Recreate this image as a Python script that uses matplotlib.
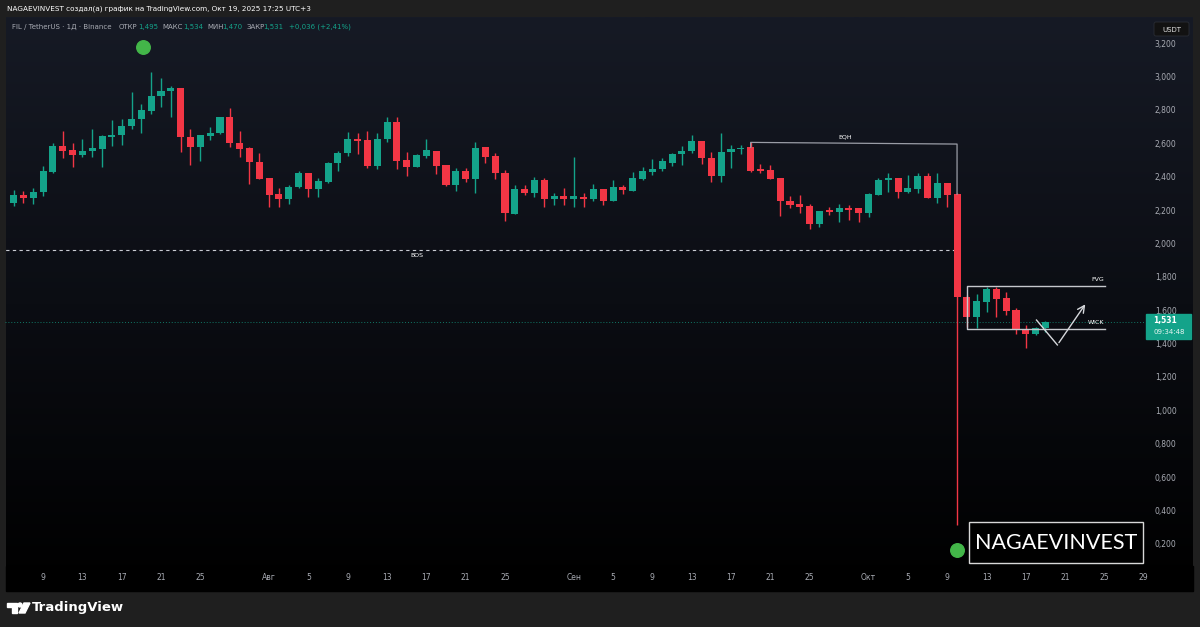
import numpy as np
import pandas as pd
import matplotlib
matplotlib.use("Agg")
import matplotlib.pyplot as plt
import matplotlib.dates as mdates
import matplotlib.transforms as mtransforms
from matplotlib.patches import Rectangle, Circle, Polygon, FancyBboxPatch
from matplotlib.colors import LinearSegmentedColormap

plt.rcParams['font.family'] = ['DejaVu Sans']

# FIL/USDT daily candles, Jul 6 .. Oct 19 2025
start_date = "2025-07-06"
open_ = [2.244, 2.292, 2.274, 2.306, 2.430, 2.583, 2.559, 2.529, 2.553, 2.567,
         2.637, 2.649, 2.701, 2.745, 2.795, 2.883, 2.915, 2.929, 2.637, 2.575,
         2.643, 2.659, 2.755, 2.603, 2.569, 2.489,
         2.390, 2.294, 2.266, 2.336, 2.424, 2.324, 2.370, 2.483, 2.539, 2.625,
         2.619, 2.464, 2.625, 2.729, 2.499, 2.460, 2.525, 2.555, 2.470, 2.350,
         2.434, 2.384, 2.579, 2.523, 2.424, 2.176, 2.324, 2.300, 2.380, 2.264, 2.284,
         2.264, 2.280, 2.264, 2.326, 2.256, 2.340, 2.316, 2.386, 2.430, 2.444,
         2.483, 2.533, 2.553, 2.615, 2.513, 2.404, 2.549, 2.565, 2.579, 2.444,
         2.440, 2.394, 2.256, 2.236, 2.224, 2.114, 2.200, 2.186, 2.210, 2.210,
         2.180, 2.290, 2.380, 2.390, 2.310, 2.324, 2.404, 2.274, 2.364, 2.294,
         1.681, 1.557, 1.651, 1.727, 1.671, 1.601, 1.487, 1.457, 1.495]
high = [2.320, 2.314, 2.330, 2.464, 2.603, 2.675, 2.603, 2.623, 2.687, 2.649,
        2.739, 2.743, 2.909, 2.835, 3.024, 2.988, 2.943, 2.933, 2.683, 2.647,
        2.699, 2.759, 2.809, 2.673, 2.575, 2.543,
        2.390, 2.334, 2.350, 2.434, 2.424, 2.390, 2.489, 2.553, 2.665, 2.659,
        2.675, 2.659, 2.755, 2.759, 2.549, 2.533, 2.625, 2.555, 2.470, 2.450,
        2.450, 2.609, 2.579, 2.543, 2.440, 2.350, 2.350, 2.400, 2.390, 2.300, 2.334,
        2.515, 2.304, 2.354, 2.326, 2.380, 2.350, 2.430, 2.460, 2.503, 2.509,
        2.543, 2.583, 2.649, 2.615, 2.549, 2.659, 2.589, 2.589, 2.609, 2.476,
        2.470, 2.394, 2.286, 2.290, 2.236, 2.194, 2.216, 2.236, 2.230, 2.210,
        2.300, 2.390, 2.424, 2.390, 2.410, 2.424, 2.420, 2.420, 2.364, 2.300,
        1.690, 1.697, 1.737, 1.737, 1.707, 1.611, 1.511, 1.501, 1.534]
low = [2.226, 2.244, 2.234, 2.284, 2.420, 2.509, 2.456, 2.515, 2.519, 2.460,
       2.583, 2.589, 2.683, 2.663, 2.775, 2.819, 2.755, 2.549, 2.470, 2.495,
       2.619, 2.655, 2.579, 2.515, 2.356, 2.384,
       2.216, 2.220, 2.234, 2.330, 2.276, 2.280, 2.360, 2.436, 2.523, 2.533,
       2.450, 2.444, 2.609, 2.444, 2.404, 2.456, 2.509, 2.416, 2.344, 2.316,
       2.370, 2.304, 2.483, 2.384, 2.134, 2.176, 2.290, 2.280, 2.220, 2.230, 2.230,
       2.216, 2.216, 2.256, 2.230, 2.256, 2.296, 2.316, 2.380, 2.410, 2.436,
       2.463, 2.469, 2.539, 2.473, 2.370, 2.370, 2.454, 2.533, 2.426, 2.420,
       2.386, 2.164, 2.210, 2.184, 2.084, 2.100, 2.170, 2.130, 2.140, 2.130,
       2.160, 2.290, 2.310, 2.270, 2.300, 2.304, 2.270, 2.244, 2.216, 0.314,
       1.501, 1.491, 1.591, 1.557, 1.571, 1.457, 1.372, 1.452, 1.470]
close = [2.290, 2.274, 2.310, 2.434, 2.583, 2.555, 2.529, 2.555, 2.569, 2.641,
         2.647, 2.705, 2.747, 2.799, 2.883, 2.913, 2.929, 2.635, 2.575, 2.647,
         2.663, 2.755, 2.599, 2.565, 2.485, 2.386,
         2.290, 2.266, 2.340, 2.424, 2.324, 2.376, 2.483, 2.539, 2.625, 2.615,
         2.464, 2.625, 2.729, 2.495, 2.456, 2.529, 2.559, 2.464, 2.350, 2.434,
         2.384, 2.573, 2.519, 2.420, 2.180, 2.324, 2.300, 2.380, 2.264, 2.284, 2.264,
         2.284, 2.264, 2.324, 2.256, 2.340, 2.320, 2.390, 2.436, 2.446, 2.493,
         2.533, 2.555, 2.615, 2.513, 2.404, 2.549, 2.565, 2.569, 2.436, 2.436,
         2.386, 2.254, 2.230, 2.220, 2.114, 2.194, 2.186, 2.210, 2.200, 2.180,
         2.294, 2.380, 2.390, 2.310, 2.330, 2.404, 2.274, 2.360, 2.290, 1.681,
         1.557, 1.657, 1.727, 1.667, 1.597, 1.487, 1.457, 1.495, 1.531]

price_ticks = [0.2, 0.4, 0.6, 0.8, 1.0, 1.2, 1.4, 1.6, 1.8, 2.0, 2.2, 2.4, 2.6, 2.8, 3.0, 3.2]
date_ticks = ["2025-07-09", "2025-07-13", "2025-07-17", "2025-07-21", "2025-07-25",
              "2025-08-01", "2025-08-05", "2025-08-09", "2025-08-13", "2025-08-17",
              "2025-08-21", "2025-08-25", "2025-09-01", "2025-09-05", "2025-09-09",
              "2025-09-13", "2025-09-17", "2025-09-21", "2025-09-25", "2025-10-01",
              "2025-10-05", "2025-10-09", "2025-10-13", "2025-10-17", "2025-10-21",
              "2025-10-25", "2025-10-29"]
date_labels = ["9", "13", "17", "21", "25", "Авг", "5", "9", "13", "17", "21", "25",
               "Сен", "5", "9", "13", "17", "21", "25", "Окт", "5", "9", "13", "17",
               "21", "25", "29"]

last_price = 1.531
bos_level = 1.960
bos_end = "2025-10-09 19:00"
eqh_dates = ["2025-09-19", "2025-10-10"]
eqh_levels = [2.605, 2.595]
fvg_top, fvg_bottom = 1.745, 1.487
fvg_dates = ["2025-10-11", "2025-10-25 02:00"]
path_dates = ["2025-10-18 02:00", "2025-10-20 05:00", "2025-10-23 05:00"]
path_prices = [1.541, 1.392, 1.649]
dot_dates = ["2025-07-19 05:00", "2025-10-10"]
dot_prices = [3.176, 0.164]

GREEN = "#14a38a"
RED = "#f23645"
LABEL = "#a9acb4"

dates = pd.date_range(start_date, periods=len(close), freq="D")
xd = mdates.date2num(dates)
o, h, l, c = map(np.array, (open_, high, low, close))
up = c >= o

W, H = 1200, 627
fig = plt.figure(figsize=(12, 6.27), dpi=100, facecolor="#1f1f1f")

# background panel with the dark gradient
bg = fig.add_axes([0, 0, 1, 1])
bg.set_xlim(0, W)
bg.set_ylim(H, 0)
bg.axis("off")
cmap = LinearSegmentedColormap.from_list("tv", ["#161a25", "#0b0d13", "#000000"])
grad = np.linspace(0, 1, 256).reshape(-1, 1)
bg.imshow(grad, cmap=cmap, extent=(6, 1193, 591, 17), aspect="auto")
bg.add_patch(Rectangle((6, 566), 1187, 25, color="#000000"))
bg.set_xlim(0, W)
bg.set_ylim(H, 0)

ax = fig.add_axes([5 / W, (H - 566) / H, 1140 / W, 548 / H])
ax.set_facecolor("none")
for s in ax.spines.values():
    s.set_visible(False)

# candles
body_lo = np.minimum(o, c)
body_h = np.maximum(np.abs(c - o), 0.006)
cols = np.where(up, GREEN, RED)
ax.vlines(xd, l, h, colors=cols, lw=1.0, zorder=2)
ax.bar(xd, body_h, bottom=body_lo, width=0.72, color=cols, zorder=3)

# last price line
ax.axhline(last_price, color=GREEN, lw=0.7, ls=(0, (1, 2)), alpha=0.7, zorder=1)

# BOS
ax.plot([mdates.datestr2num("2025-07-01"), mdates.datestr2num(bos_end)], [bos_level, bos_level],
        color="#c9ccd3", lw=0.8, ls=(0, (3, 3)), zorder=1)
ax.text(mdates.datestr2num("2025-08-16"), bos_level - 0.035, "BOS", color="white",
        fontsize=4.5, ha="center", va="center")

# EQH bracket
ex = mdates.datestr2num(eqh_dates)
ax.plot([ex[0], ex[0], ex[1], ex[1]], [2.575, eqh_levels[0], eqh_levels[1], o[-10]],
        color="#9a9da6", lw=0.9, zorder=4)
ax.text(mdates.datestr2num("2025-09-28 14:00"), 2.639, "EQH", color="white",
        fontsize=4.5, ha="center", va="center")

# FVG / WICK box
fx = mdates.datestr2num(fvg_dates)
ax.plot([fx[1], fx[0], fx[0], fx[1]], [fvg_top, fvg_top, fvg_bottom, fvg_bottom],
        color="#c6c8cd", lw=1.0, zorder=4)
ax.text(mdates.datestr2num("2025-10-24 07:00"), 1.785, "FVG", color="white",
        fontsize=4.5, ha="center", va="center")
ax.text(mdates.datestr2num("2025-10-24 03:00"), 1.525, "WICK", color="white",
        fontsize=4.5, ha="center", va="center")

# projected path
px = mdates.datestr2num(path_dates)
ax.plot(px[:2], path_prices[:2], color="#d6d8dc", lw=1.0, zorder=4)
ax.annotate("", xy=(px[2], path_prices[2]), xytext=(px[1], path_prices[1]),
            arrowprops=dict(arrowstyle="->,head_length=0.5,head_width=0.25",
                            color="#d6d8dc", lw=1.0), zorder=4)

# green markers
ax.scatter(mdates.datestr2num(dot_dates), dot_prices, s=95, color="#43b649", zorder=5)

ax.set_xlim(mdates.datestr2num("2025-07-05 03:00"), mdates.datestr2num("2025-10-29 03:00"))
ax.set_ylim(0.068, 3.350)

ax.yaxis.tick_right()
ax.set_yticks(price_ticks)
ax.set_yticklabels([f"{v:.3f}".replace(".", ",") for v in price_ticks])
ax.set_xticks(mdates.datestr2num(date_ticks))
ax.set_xticklabels(date_labels)
ax.tick_params(axis="y", length=0, pad=7, labelsize=5.5, labelcolor=LABEL)
ax.tick_params(axis="x", length=0, pad=5, labelsize=5.5, labelcolor=LABEL)

# last price tag on the axis
tr = mtransforms.blended_transform_factory(ax.transAxes, ax.transData)
ax.add_patch(Rectangle((1.0012, 1.427), 0.0395, 0.150, transform=tr, color=GREEN,
                       clip_on=False, zorder=6))
ax.text(1.0075, 1.541, "1,531", transform=tr, color="white", fontsize=5.5,
        fontweight="bold", va="center", clip_on=False, zorder=7)
ax.text(1.0075, 1.468, "09:34:48", transform=tr, color="#e8f5f2", fontsize=5,
        va="center", clip_on=False, zorder=7)

# overlay: texts, watermark box, logo
top = fig.add_axes([0, 0, 1, 1], zorder=5)
top.set_xlim(0, W)
top.set_ylim(H, 0)
top.axis("off")
top.set_facecolor("none")

top.text(7, 9, "NAGAEVINVEST создал(а) график на TradingView.com, Окт 19, 2025 17:25 UTC+3",
         color="white", fontsize=5.2, va="center")
hdr = [(12, "FIL / TetherUS · 1Д · Binance", LABEL), (119, "ОТКР", LABEL), (138, "1,495", GREEN),
       (162, "МАКС", LABEL), (183, "1,534", GREEN), (207, "МИН", LABEL), (222, "1,470", GREEN),
       (247, "ЗАКР", LABEL), (263, "1,531", GREEN), (289, "+0,036 (+2,41%)", GREEN)]
for x, t, col in hdr:
    top.text(x, 27, t, color=col, fontsize=5, va="center")

top.add_patch(FancyBboxPatch((1154, 22), 35, 14, boxstyle="round,pad=0,rounding_size=2",
                             fc="#121212", ec="#2a2d35", lw=0.6))
top.text(1171.5, 29.5, "USDT", color="#e0e0e0", fontsize=5, ha="center", va="center")

top.add_patch(Rectangle((969, 522), 174, 41, fc="black", ec="#d8d8d8", lw=1.0))
top.text(1056, 543, "NAGAEVINVEST", color="white", fontsize=15.5, family="Lato",
         ha="center", va="center")

# TradingView logo
top.add_patch(Polygon([(7, 603), (17, 603), (17, 613), (12, 613), (12, 607), (7, 607)],
                      closed=True, color="white"))
top.add_patch(Circle((20, 605), 2, color="white"))
top.add_patch(Polygon([(24, 603), (30, 603), (25, 613), (19, 613)], closed=True, color="white"))
top.text(32, 607.5, "TradingView", color="white", fontsize=9.5, fontweight="semibold",
         va="center")

fig.savefig("out.png", dpi=100, facecolor=fig.get_facecolor())
